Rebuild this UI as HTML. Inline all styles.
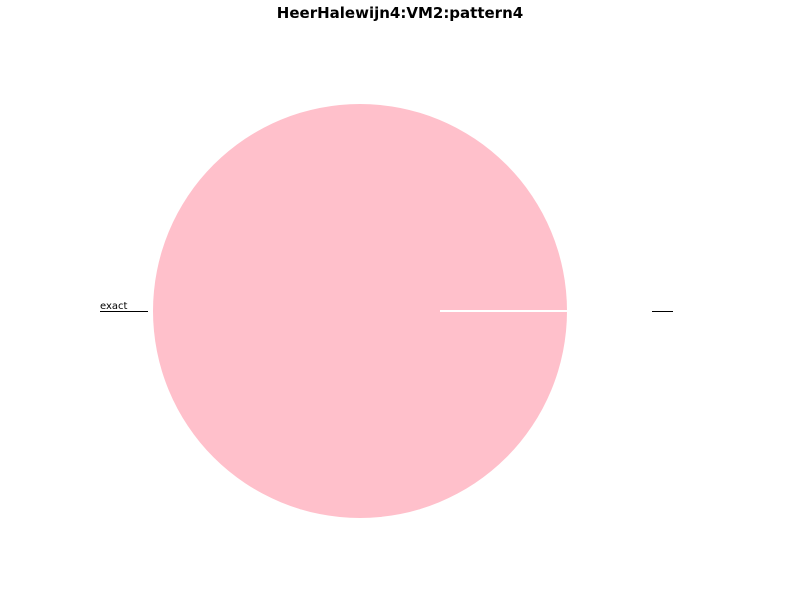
<!DOCTYPE html>
<html><head><meta charset="utf-8"><style>
body{margin:0;background:#fff;}
svg{display:block;font-family:"DejaVu Sans","Liberation Sans",sans-serif;}
</style></head><body>
<svg width="800" height="600">
<text x="400" y="18" text-anchor="middle" font-size="15" font-weight="bold">HeerHalewijn4:VM2:pattern4</text>
<g id="pie"></g>
<text x="100" y="309" font-size="10">exact</text>
<line x1="100" y1="311.5" x2="148" y2="311.5" stroke="#000" stroke-width="1"/>
<line x1="652" y1="311.5" x2="673" y2="311.5" stroke="#000" stroke-width="1"/>
</svg>
<script>
const categories = ["exact", ""];
const values = [100, 0];
const cx = 360, cy = 311, r = 207;
const g = document.getElementById('pie');
const total = values.reduce((a, b) => a + b, 0);
let a0 = 0;
values.forEach((v, i) => {
  const frac = v / total;
  let el;
  if (frac >= 0.9999) {
    el = document.createElementNS('http://www.w3.org/2000/svg', 'circle');
    el.setAttribute('cx', cx); el.setAttribute('cy', cy); el.setAttribute('r', r);
  } else if (frac > 0) {
    const a1 = a0 + frac * 2 * Math.PI;
    const x0 = cx + r * Math.cos(a0), y0 = cy - r * Math.sin(a0);
    const x1 = cx + r * Math.cos(a1), y1 = cy - r * Math.sin(a1);
    el = document.createElementNS('http://www.w3.org/2000/svg', 'path');
    el.setAttribute('d', `M${cx},${cy}L${x0},${y0}A${r},${r} 0 ${frac > 0.5 ? 1 : 0} 0 ${x1},${y1}Z`);
  }
  if (el) {
    el.setAttribute('fill', '#ffc0cb');
    
    
    g.appendChild(el);
  }
  a0 += frac * 2 * Math.PI;
});
const edge = document.createElementNS('http://www.w3.org/2000/svg', 'line');
edge.setAttribute('x1', cx + 80); edge.setAttribute('y1', cy);
edge.setAttribute('x2', cx + r); edge.setAttribute('y2', cy);
edge.setAttribute('stroke', '#fff'); edge.setAttribute('stroke-width', '2');


g.appendChild(edge);
</script>
</body></html>
